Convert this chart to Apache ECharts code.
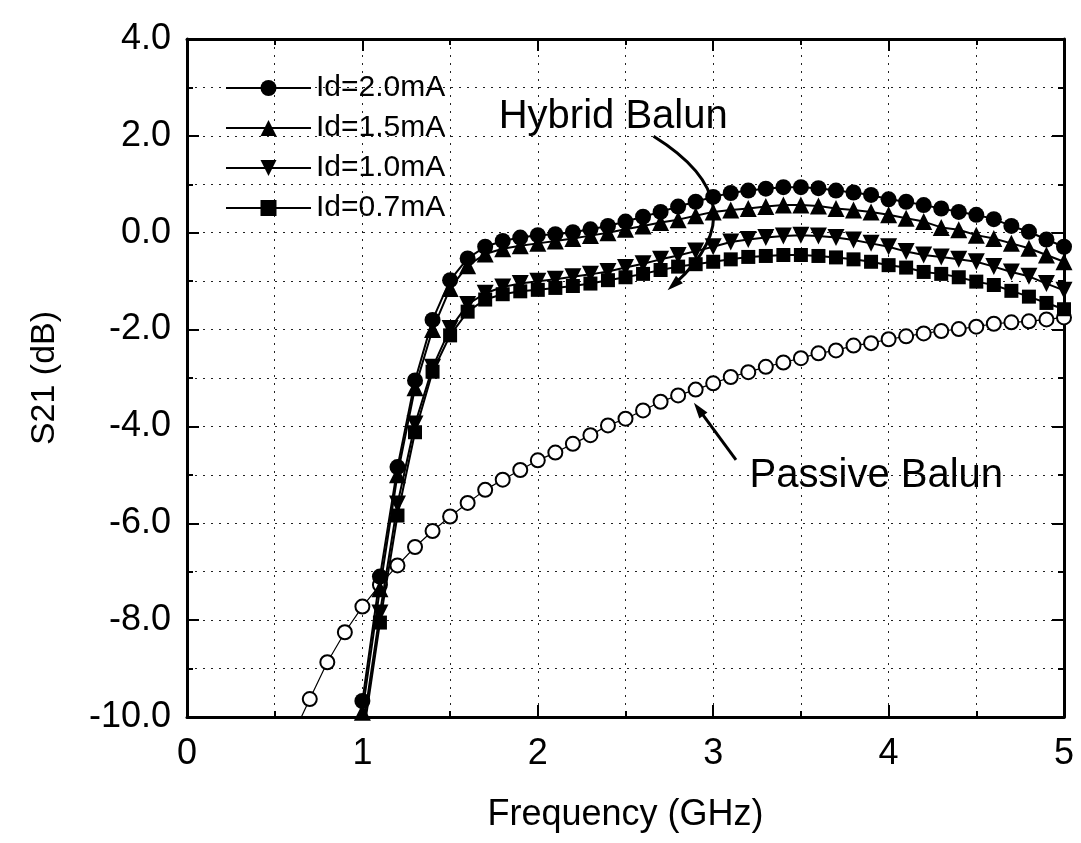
<!DOCTYPE html>
<html>
<head>
<meta charset="utf-8">
<script src="https://cdn.jsdelivr.net/npm/echarts@6/dist/echarts.min.js"></script>
<style>
    html, body { margin: 0; padding: 0; background: #fff; }
    #main { width: 1081px; height: 843px; }
</style>
</head>
<body>
<div id="main"></div>
<script>
// frequencies (GHz) of the measured points
let freqActive = [1.0, 1.1, 1.2, 1.3, 1.4, 1.5, 1.6, 1.7, 1.8, 1.9, 2.0, 2.1, 2.2, 2.3, 2.4, 2.5, 2.6, 2.7, 2.8, 2.9,
    3.0, 3.1, 3.2, 3.3, 3.4, 3.5, 3.6, 3.7, 3.8, 3.9, 4.0, 4.1, 4.2, 4.3, 4.4, 4.5, 4.6, 4.7, 4.8, 4.9, 5.0];
let freqPassive = [0.6, 0.7, 0.8, 0.9, 1.0, 1.1, 1.2, 1.3, 1.4, 1.5, 1.6, 1.7, 1.8, 1.9, 2.0, 2.1, 2.2, 2.3, 2.4, 2.5,
    2.6, 2.7, 2.8, 2.9, 3.0, 3.1, 3.2, 3.3, 3.4, 3.5, 3.6, 3.7, 3.8, 3.9, 4.0, 4.1, 4.2, 4.3, 4.4, 4.5,
    4.6, 4.7, 4.8, 4.9, 5.0];

let names = ['Id=2.0mA', 'Id=1.5mA', 'Id=1.0mA', 'Id=0.7mA'];

// S21 (dB)
let s21Id20 = [-9.67, -7.10, -4.84, -3.05, -1.80, -0.98, -0.53, -0.29, -0.17, -0.10, -0.05, -0.03, 0.01, 0.07, 0.14, 0.23, 0.33, 0.43, 0.54, 0.64,
    0.74, 0.82, 0.87, 0.91, 0.94, 0.94, 0.92, 0.87, 0.83, 0.78, 0.69, 0.64, 0.57, 0.50, 0.43, 0.37, 0.28, 0.14, 0.02, -0.14, -0.29];
let s21Id15 = [-9.90, -7.35, -5.00, -3.20, -2.00, -1.15, -0.68, -0.44, -0.33, -0.27, -0.22, -0.17, -0.12, -0.06, 0.00, 0.07, 0.14, 0.21, 0.27, 0.35,
    0.43, 0.47, 0.50, 0.54, 0.57, 0.57, 0.55, 0.50, 0.47, 0.43, 0.37, 0.30, 0.23, 0.11, 0.06, -0.05, -0.12, -0.22, -0.32, -0.46, -0.60];
let s21Id10 = [-10.30, -7.85, -5.60, -3.95, -2.78, -1.98, -1.48, -1.25, -1.12, -1.05, -1.00, -0.96, -0.91, -0.86, -0.80, -0.72, -0.64, -0.55, -0.47, -0.38,
    -0.29, -0.19, -0.14, -0.10, -0.07, -0.05, -0.07, -0.10, -0.15, -0.22, -0.29, -0.39, -0.46, -0.50, -0.55, -0.60, -0.70, -0.81, -0.90, -1.05, -1.19];
let s21Id07 = [-10.50, -8.05, -5.84, -4.12, -2.87, -2.12, -1.63, -1.38, -1.27, -1.21, -1.18, -1.14, -1.10, -1.05, -0.98, -0.92, -0.85, -0.77, -0.70, -0.65,
    -0.60, -0.55, -0.50, -0.48, -0.46, -0.46, -0.48, -0.51, -0.55, -0.60, -0.67, -0.72, -0.81, -0.85, -0.92, -1.01, -1.08, -1.20, -1.32, -1.45, -1.58];
let s21Passive = [-10.40, -9.63, -8.87, -8.25, -7.72, -7.27, -6.87, -6.49, -6.16, -5.86, -5.58, -5.31, -5.10, -4.90, -4.70, -4.54, -4.36, -4.18, -3.98, -3.84,
    -3.67, -3.49, -3.36, -3.24, -3.11, -2.98, -2.88, -2.77, -2.68, -2.59, -2.49, -2.43, -2.33, -2.28, -2.20, -2.14, -2.08, -2.03, -1.99, -1.94,
    -1.88, -1.85, -1.83, -1.79, -1.75];

// annotation anchors, in data coordinates [GHz, dB]
let hybridText = [2.43, 2.40];
let passiveText = [3.93, -5.03];
// arrows: from x, from y, to x, to y, curveness
let hybridArrow = [2.66, 1.99, 2.74, -1.19, 0.66];
let passiveArrow = [3.13, -4.69, 2.89, -3.51, 0];

let FONT = '"Liberation Sans", Arial, sans-serif';

function pairs(xs, ys) {
    let out = [];
    for (let i = 0; i < xs.length; i++) {
        out.push([xs[i], ys[i]]);
    }
    return out;
}

function idSeries(name, ys, symbol, size, rotate) {
    return {
        name: name,
        type: 'line',
        data: pairs(freqActive, ys),
        symbol: symbol,
        symbolSize: size,
        symbolRotate: rotate || 0,
        showAllSymbol: true,
        color: '#000',
        lineStyle: { color: '#000', width: 2 },
        itemStyle: { color: '#000' },
        z: 3
    };
}

// arrow drawn as a quadratic curve (same control point rule as echarts curveness) + a filled head
function renderArrow(params, api) {
    let p1 = api.coord([api.value(0), api.value(1)]);
    let p2 = api.coord([api.value(2), api.value(3)]);
    let c = api.value(4);
    let cp = [(p1[0] + p2[0]) / 2 - (p1[1] - p2[1]) * c, (p1[1] + p2[1]) / 2 - (p2[0] - p1[0]) * c];
    let dx = p2[0] - cp[0], dy = p2[1] - cp[1];
    let len = Math.sqrt(dx * dx + dy * dy) || 1;
    dx /= len; dy /= len;
    let headLen = 16, headHalf = 5;
    let base = [p2[0] - dx * headLen, p2[1] - dy * headLen];
    let left = [base[0] - dy * headHalf, base[1] + dx * headHalf];
    let right = [base[0] + dy * headHalf, base[1] - dx * headHalf];
    let lineEnd = [p2[0] - dx * headLen * 0.6, p2[1] - dy * headLen * 0.6];
    return {
        type: 'group',
        children: [
            {
                type: 'bezierCurve',
                shape: { x1: p1[0], y1: p1[1], x2: lineEnd[0], y2: lineEnd[1], cpx1: cp[0], cpy1: cp[1] },
                style: { stroke: '#000', lineWidth: 3, fill: null }
            },
            {
                type: 'polygon',
                shape: { points: [p2, left, right] },
                style: { fill: '#000' }
            }
        ]
    };
}

let gridDots = { color: '#222', width: 1, type: [2, 6] };

function mainAxisCommon() {
    return {
        axisLine: { show: true, onZero: false, lineStyle: { color: '#000', width: 3 } },
        axisTick: { show: true, inside: true, length: 12, lineStyle: { color: '#000', width: 2 } },
        minorTick: { show: true, splitNumber: 2, length: 6, lineStyle: { color: '#000', width: 2 } },
        splitLine: { show: true, lineStyle: gridDots },
        minorSplitLine: { show: true, lineStyle: gridDots }
    };
}

function frameAxis(base) {
    return Object.assign(base, {
        axisLine: { show: true, onZero: false, lineStyle: { color: '#000', width: 3 } },
        axisTick: { show: true, inside: true, length: 12, lineStyle: { color: '#000', width: 2 } },
        minorTick: { show: true, splitNumber: 2, length: 6, lineStyle: { color: '#000', width: 2 } },
        axisLabel: { show: false },
        splitLine: { show: false },
        minorSplitLine: { show: false }
    });
}

var myChart = echarts.init(document.getElementById('main'));

var option = {
    animation: false,
    backgroundColor: '#fff',
    textStyle: { fontFamily: FONT, color: '#000' },
    grid: { left: 187, right: 17, top: 39, bottom: 126 },
    legend: {
        data: names,
        orient: 'vertical',
        left: 220,
        top: 68,
        itemWidth: 85,
        itemHeight: 20,
        itemGap: 10,
        textStyle: { fontFamily: FONT, fontSize: 30, color: '#000' },
        inactiveColor: '#000'
    },
    xAxis: [
        Object.assign(mainAxisCommon(), {
            type: 'value',
            min: 0,
            max: 5,
            interval: 1,
            name: 'Frequency (GHz)',
            nameLocation: 'middle',
            nameGap: 80,
            nameTextStyle: { fontFamily: FONT, fontSize: 36, color: '#000' },
            axisLabel: { fontFamily: FONT, fontSize: 36, color: '#000', margin: 19 }
        }),
        frameAxis({ type: 'value', position: 'top', min: 0, max: 5, interval: 1 })
    ],
    yAxis: [
        Object.assign(mainAxisCommon(), {
            type: 'value',
            min: -10,
            max: 4,
            interval: 2,
            name: 'S21 (dB)',
            nameLocation: 'middle',
            nameGap: 125,
            nameTextStyle: { fontFamily: FONT, fontSize: 34, color: '#000' },
            axisLabel: {
                fontFamily: FONT, fontSize: 36, color: '#000', margin: 16,
                formatter: function (v) { return v.toFixed(1); }
            }
        }),
        frameAxis({ type: 'value', position: 'right', min: -10, max: 4, interval: 2 })
    ],
    series: [
        {
            name: 'Passive Balun',
            type: 'line',
            data: pairs(freqPassive, s21Passive),
            symbol: 'emptyCircle',
            symbolSize: 14,
            showAllSymbol: true,
            color: '#000',
            lineStyle: { color: '#000', width: 1.2 },
            itemStyle: { color: '#000', borderColor: '#000', borderWidth: 1.6 },
            z: 2,
            markPoint: {
                silent: true,
                symbol: 'circle',
                symbolSize: 1,
                itemStyle: { color: 'rgba(0,0,0,0)' },
                label: {
                    show: true,
                    position: 'inside',
                    fontFamily: FONT,
                    fontSize: 40,
                    color: '#000',
                    formatter: function (p) { return p.name; }
                },
                data: [
                    { name: 'Hybrid Balun', coord: hybridText },
                    { name: 'Passive Balun', coord: passiveText }
                ]
            }
        },
        idSeries(names[0], s21Id20, 'circle', 16),
        idSeries(names[1], s21Id15, 'triangle', 17),
        idSeries(names[2], s21Id10, 'triangle', 17, 180),
        idSeries(names[3], s21Id07, 'rect', 14),
        {
            name: 'arrows',
            type: 'custom',
            silent: true,
            renderItem: renderArrow,
            encode: { x: [0, 2], y: [1, 3] },
            data: [hybridArrow, passiveArrow],
            z: 5
        }
    ]
};

myChart.setOption(option);
</script>
</body>
</html>
